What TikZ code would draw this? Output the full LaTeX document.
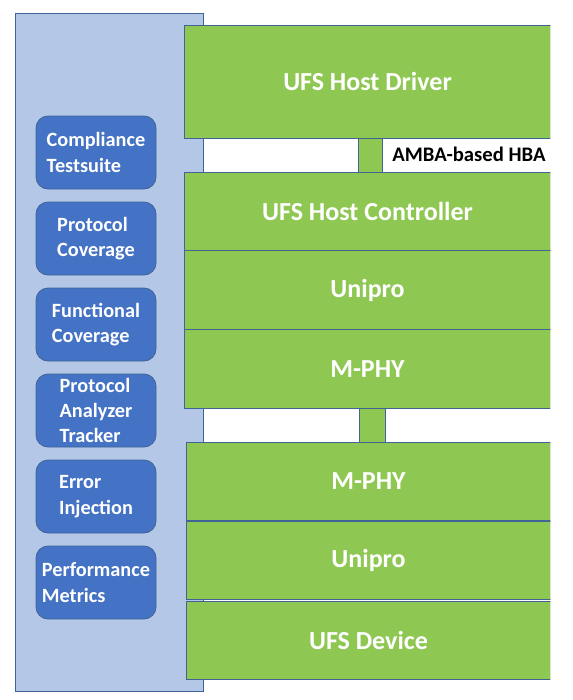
\documentclass[tikz,border=0pt]{standalone}
\usepackage{fontspec}
\setmainfont{Carlito}
\definecolor{panelblue}{RGB}{180,199,231}
\definecolor{boxblue}{RGB}{68,114,196}
\definecolor{edgeblue}{RGB}{65,100,150}
\definecolor{layergreen}{RGB}{143,199,83}

\tikzset{
  layer/.style={draw=edgeblue, fill=layergreen, line width=0.6pt, text=white, inner sep=0pt,
    font=\bfseries\fontsize{19.5}{23}\selectfont, minimum width=275.25pt, minimum height=59pt},
  linkbox/.style={draw=edgeblue, fill=layergreen, line width=0.6pt, inner sep=0pt,
    minimum width=18pt, minimum height=25.5pt},
  testbox/.style={draw=edgeblue, fill=boxblue, line width=0.6pt, text=white, rounded corners=9pt,
    align=left, inner sep=0pt, font=\bfseries\fontsize{15.2}{19}\selectfont,
    minimum width=90pt, minimum height=54.75pt}
}

\begin{document}
\begin{tikzpicture}[x=0.75pt,y=0.75pt,yscale=-1,xscale=1]
\useasboundingbox (0,0) rectangle (572,700);

%Shape: Rectangle [panel]
\draw [draw=edgeblue, fill=panelblue, line width=0.6pt] (15,13) rectangle (203,691) ;

%Links between the stacks
\node [linkbox] (hbalink) at (370,155) {};
\node [linkbox, minimum width=20pt] (phylink) at (372.5,425) {};

\begin{scope}
\clip (0,0) rectangle (550.4,700);
%Host side
\node [layer, minimum height=84.75pt] (drv) at (367.5,81.5) {UFS Host Driver};
\node [layer] (hctl) at (367.5,211.3) {UFS Host Controller};
\node [layer] (hupr) at (367.5,290) {Unipro};
\node [layer] (hphy) at (367.5,368.7) {M-PHY};

%Device side
\node [layer, minimum width=273.75pt] (dphy) at (368.5,481.5) {M-PHY};
\node [layer, minimum width=273.75pt] (dupr) at (368.5,560.5) {Unipro};
\node [layer, minimum width=273.75pt, minimum height=58.5pt] (dev) at (368.5,640) {UFS Device};
\end{scope}

% Text Node
\node [anchor=west, inner sep=0pt, font=\bfseries\fontsize{15.5}{18}\selectfont] (hbalbl) at (392,154) {AMBA-based HBA};

%Test features
\node [testbox] (comp) at (96,152.5) {Compliance\\Testsuite};
\node [testbox] (pcov) at (96,238.5) {Protocol\\Coverage};
\node [testbox] (fcov) at (96,324.5) {Functional\\Coverage};
\node [testbox] (pana) at (96,410.5) {Protocol\\Analyzer\\Tracker};
\node [testbox] (einj) at (96,496.5) {Error\\Injection};
\node [testbox] (perf) at (96,582.5) {Performance\\Metrics};

\end{tikzpicture}
\end{document}
